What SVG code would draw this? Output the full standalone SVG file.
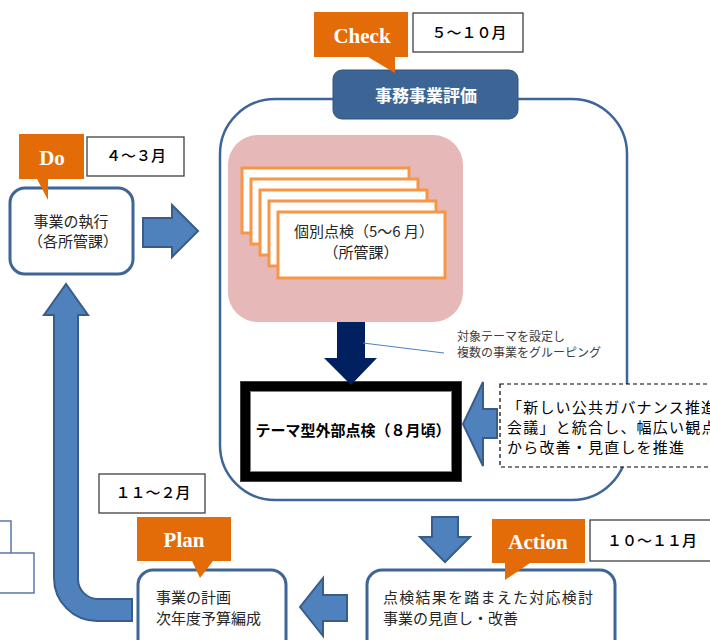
<svg xmlns="http://www.w3.org/2000/svg" width="710" height="640" viewBox="0 0 710 640">
<style>
.jp{font-family:"Noto Sans CJK JP","Noto Sans",sans-serif;}
.node{fill:#fff;stroke:#3e6597;stroke-width:3;}
.date{fill:#fff;stroke:#404040;stroke-width:1.3;}
.dt{font-family:"Noto Sans CJK JP",sans-serif;font-size:15px;font-weight:500;fill:#000;}
.tag{fill:#e36c09;}
.tagt{font-family:"Liberation Serif","DejaVu Serif",serif;font-weight:bold;font-size:21px;fill:#fff;text-anchor:middle;}
.barrow{fill:#4f81bd;stroke:#385d8a;stroke-width:2;stroke-linejoin:miter;}
.card{fill:#fff;stroke:#f79646;stroke-width:3;}
.t15{font-size:15px;fill:#262626;}
.gov{font-size:15px;letter-spacing:1.2px;fill:#000;}
</style>

<g id="check-area">
<rect x="220" y="99" width="407" height="401" rx="55" fill="#fff" stroke="#3e6597" stroke-width="2.5"/>
</g>

<g id="header">
<rect x="333" y="70" width="185" height="49" rx="9" fill="#3c6494" stroke="#2f5580" stroke-width="1"/>
<text class="jp" x="426" y="102" font-size="17" font-weight="bold" fill="#fff" text-anchor="middle">事務事業評価</text>
</g>

<g id="check-tag">
<path class="tag" d="M314 12 H408 V57 H395 V73 L368 57 H314 Z"/>
<text class="tagt" x="362" y="43">Check</text>
</g>
<g id="check-date">
<rect class="date" x="413" y="13" width="110" height="39"/>
<text class="dt" x="469" y="38" text-anchor="middle">５～１０月</text>
</g>

<g id="individual">
<rect x="228" y="135" width="235" height="187" rx="30" fill="#e6b8b7"/>
<rect class="card" x="242" y="168" width="167" height="65"/>
<rect class="card" x="251" y="179" width="167" height="65"/>
<rect class="card" x="260" y="190" width="167" height="65"/>
<rect class="card" x="269" y="201" width="167" height="65"/>
<rect class="card" x="278" y="212" width="167" height="66"/>
<text class="jp t15" x="364" y="237" text-anchor="middle" font-size="14.5">個別点検（5～6 月）</text>
<text class="jp t15" x="361" y="258" text-anchor="middle" font-size="14.5">（所管課）</text>
</g>

<g id="note">
<text class="jp" x="457" y="341" font-size="12" fill="#404040">対象テーマを設定し</text>
<text class="jp" x="457" y="357" font-size="12" fill="#404040">複数の事業をグルーピング</text>
</g>

<g id="theme">
<rect x="245.5" y="386.5" width="211" height="90" fill="#fff" stroke="#000" stroke-width="11"/>
<rect x="250.5" y="391.5" width="201" height="80" fill="none" stroke="#7f7f7f" stroke-width="1"/>
<rect x="240.5" y="381.5" width="221" height="100" fill="none" stroke="#404040" stroke-width="1"/>
<text class="jp" x="353" y="436" font-size="15" font-weight="bold" fill="#000" text-anchor="middle">テーマ型外部点検（８月頃）</text>
</g>

<g id="governance">
<rect x="500" y="384" width="220" height="83" fill="#fff" stroke="#000" stroke-width="1.2" stroke-dasharray="4 3"/>
<text class="jp gov" x="507" y="413">「新しい公共ガバナンス推進</text>
<text class="jp gov" x="507" y="433">会議」と統合し、幅広い観点</text>
<text class="jp gov" x="507" y="453">から改善・見直しを推進</text>
</g>

<g id="do-node">
<rect class="node" x="10" y="188" width="123" height="86" rx="15"/>
<text class="jp t15" x="71" y="227" text-anchor="middle">事業の執行</text>
<text class="jp t15" x="73" y="247" text-anchor="middle">（各所管課）</text>
</g>
<g id="do-tag">
<path class="tag" d="M19 134 H84 V179 H48 V200 L37 179 H19 Z"/>
<text class="tagt" x="52" y="165">Do</text>
</g>
<g id="do-date">
<rect class="date" x="87" y="137" width="97" height="39"/>
<text class="dt" x="136" y="161" text-anchor="middle">４～３月</text>
</g>

<g id="plan-node">
<rect class="node" x="138" y="570" width="148" height="85" rx="15"/>
<text class="jp t15" x="156" y="603">事業の計画</text>
<text class="jp t15" x="156" y="624">次年度予算編成</text>
</g>
<g id="plan-tag">
<path class="tag" d="M137 517 H231 V561 H213 L200 578 L192 561 H137 Z"/>
<text class="tagt" x="184" y="547">Plan</text>
</g>
<g id="plan-date">
<rect class="date" x="99" y="474" width="106" height="39"/>
<text class="dt" x="153" y="498" text-anchor="middle">１１～２月</text>
</g>

<g id="action-node">
<rect class="node" x="367" y="570" width="248" height="85" rx="15"/>
<text class="jp t15" x="383" y="603" textLength="210">点検結果を踏まえた対応検討</text>
<text class="jp t15" x="383" y="624">事業の見直し・改善</text>
</g>
<g id="action-tag">
<path class="tag" d="M492 519 H585 V563 H530 L505 580 V563 H492 Z"/>
<text class="tagt" x="538" y="549">Action</text>
</g>
<g id="action-date">
<rect class="date" x="590" y="520" width="125" height="41"/>
<text class="dt" x="652" y="546" text-anchor="middle">１０～１１月</text>
</g>

<g id="edge-shapes" fill="none" stroke="#5a78a8" stroke-width="1.5">
<path d="M0 521 H11 V553"/>
<path d="M0 553 H34 V593 H0"/>
</g>

<g id="connectors">
<polygon class="barrow" points="143,218 172,218 172,205 198,231 172,257 172,247 143,247"/>
<polygon points="337,322 365,322 365,358 377,358 351,385 324,358 337,358" fill="#002060"/>
<line x1="363" y1="343" x2="444" y2="353" stroke="#4f81bd" stroke-width="1"/>
<polygon class="barrow" points="497,409 483,409 483,382 463,424 483,466 483,438 497,438"/>
<polygon class="barrow" points="432,517 458,517 458,537 470,537 445,562 420,537 432,537"/>
<polygon class="barrow" points="347,595 323,595 323,578 300,607 323,636 323,621 347,621"/>
<path class="barrow" d="M132 599 H98 A20 20 0 0 1 78 579 V315 H88 L66 284 L44 315 H54 V578 A43 43 0 0 0 97 621 H132 Z"/>
</g>
</svg>
